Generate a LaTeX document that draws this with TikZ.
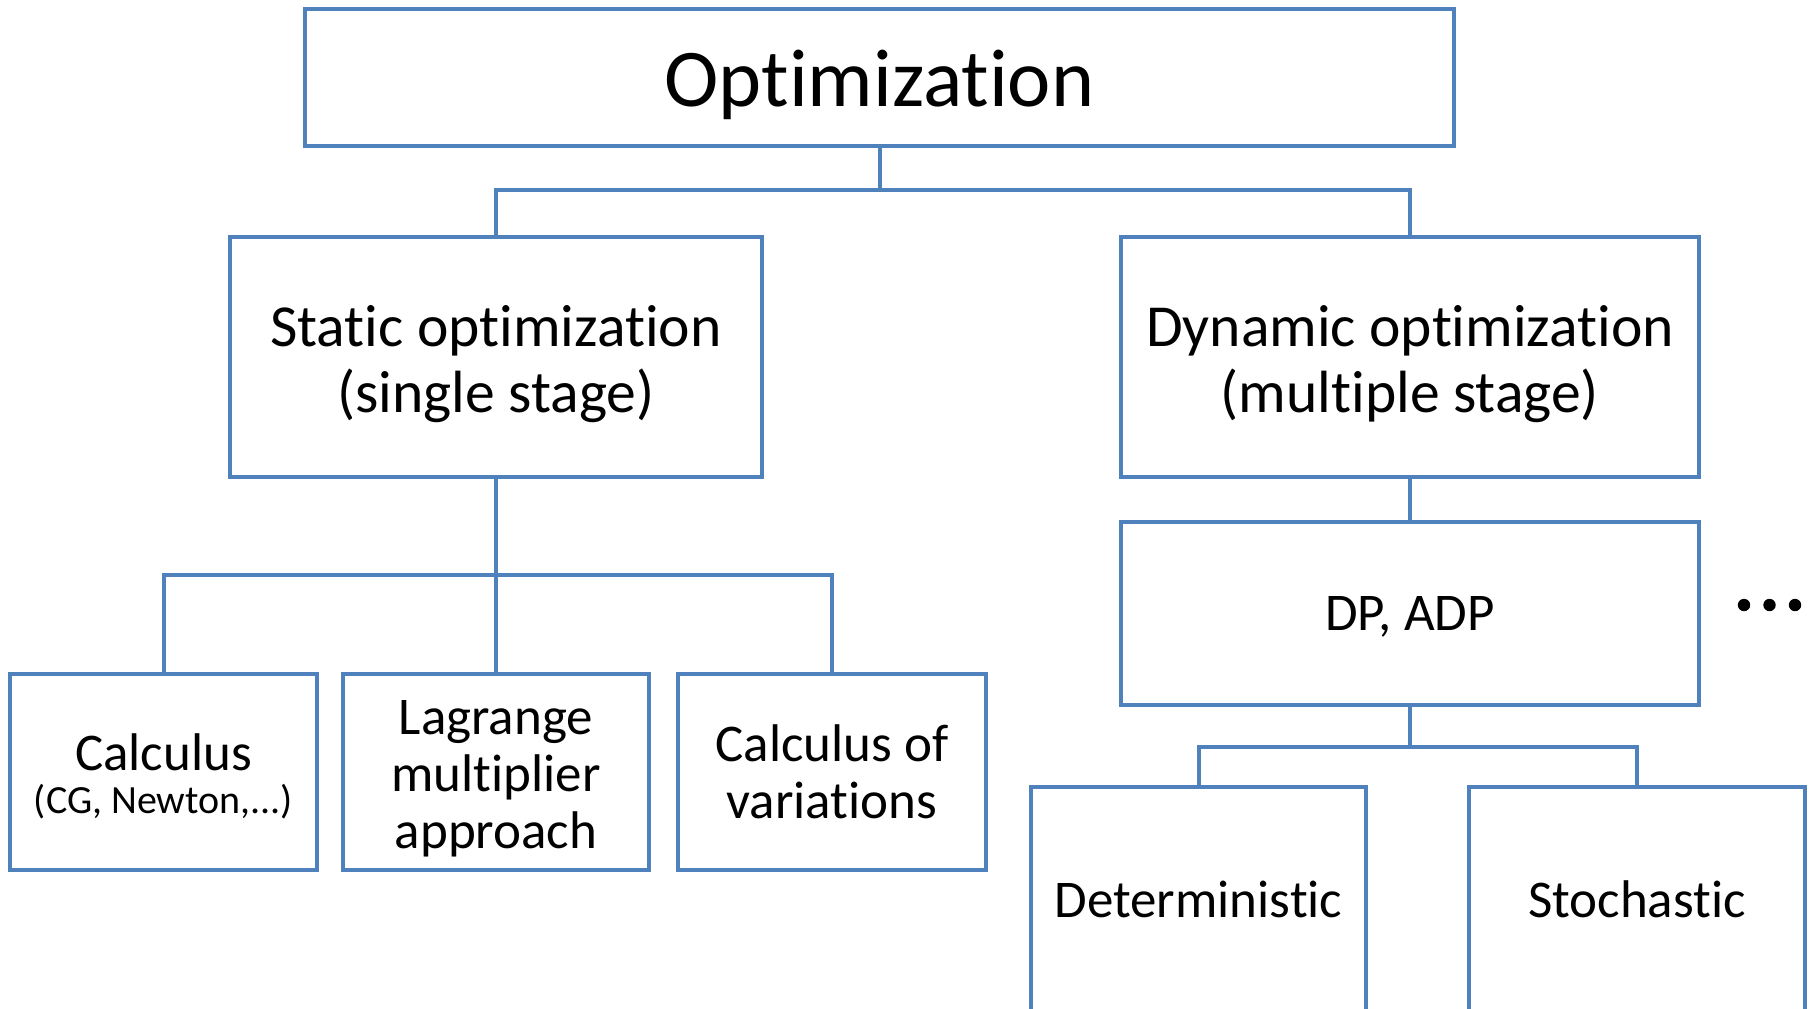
\documentclass[tikz,border=0pt]{standalone}
\usepackage{fontspec}
\setmainfont[Ligatures={NoCommon}]{Carlito}
\definecolor{boxblue}{HTML}{4F81BD}
\begin{document}
\begin{tikzpicture}[x=0.5pt, y=-0.5pt,
  box/.style={draw=boxblue, line width=2.4pt, fill=white, inner sep=0pt, outer sep=0pt},
  conn/.style={draw=boxblue, line width=2pt},
  txt/.style={inner sep=0pt, align=center, text=black},
  big/.style={font=\fontsize{41}{46}\selectfont},
  mid/.style={font=\fontsize{29.8}{33}\selectfont},
  low/.style={font=\fontsize{26.5}{28.5}\selectfont}]
\useasboundingbox (0,0) rectangle (1812,1008);

% boxes
\node[box, minimum width=574.5pt, minimum height=68.5pt] (top) at (879.5,77.5) {};
\node[box, minimum width=266pt, minimum height=120pt] (static) at (496,357) {};
\node[box, minimum width=289pt, minimum height=120pt] (dyn) at (1410,357) {};
\node[box, minimum width=153.5pt, minimum height=98pt] (calc) at (163.5,772) {};
\node[box, minimum width=153pt, minimum height=98pt] (lagr) at (496,772) {};
\node[box, minimum width=154pt, minimum height=98pt] (cvar) at (832,772) {};
\node[box, minimum width=289pt, minimum height=91.5pt] (dp) at (1410,613.5) {};
\node[box, minimum width=167.5pt, minimum height=121.5pt] (det) at (1198.5,908.5) {};
\node[box, minimum width=168pt, minimum height=121.5pt] (sto) at (1637,908.5) {};

% labels
\node[txt, big] (topT) at (879.5,84.5) {Optimization};
\node[txt, mid] (staticT) at (496,364) {Static optimization\\(single stage)};
\node[txt, mid] (dynT) at (1410,364) {Dynamic optimization\\(multiple stage)};
\node[txt, font=\fontsize{26.5}{25}\selectfont] (calcT) at (163.5,752) {Calculus};
\node[txt, font=\fontsize{20}{22}\selectfont] (calcS) at (163.5,802) {(CG, Newton,...)};
\node[txt, low] (lagrT) at (496,779) {Lagrange\\multiplier\\approach};
\node[txt, low] (cvarT) at (832,772) {Calculus of\\variations};
\node[txt, low] (dpT) at (1410,617) {DP, ADP};
\node[txt, low] (detT) at (1198.5,899) {Deterministic};
\node[txt, low] (stoT) at (1637,899) {Stochastic};

% ellipsis beside the DP box
\foreach \i/\x in {1/1744,2/1769.5,3/1795}
  \fill[black] (\x,605) circle (3.1pt) coordinate (dot\i);

% connectors
\coordinate (j1) at (879.5,190);
\draw[conn] (top.south) -- (j1);
\draw[conn] (static.north) |- (j1) -| (dyn.north);

\coordinate (j2) at (496,575);
\draw[conn] (static.south) -- (lagr.north);
\draw[conn] (calc.north) |- (j2) -| (cvar.north);

\draw[conn] (dyn.south) -- (dp.north);
\coordinate (j3) at (1410,746.5);
\draw[conn] (dp.south) -- (j3);
\draw[conn] (det.north) |- (j3) -| (sto.north);
\end{tikzpicture}
\end{document}
